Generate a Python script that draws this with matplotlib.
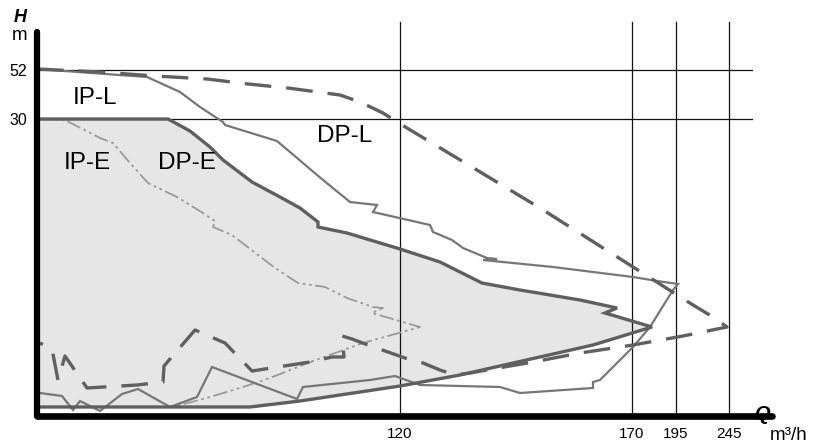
import matplotlib
matplotlib.use("Agg")
import matplotlib.pyplot as plt

plt.rcParams['font.family'] = ['Liberation Sans', 'DejaVu Sans']

# ---- chart units: x = position along Q axis, y = position along H axis (schematic, non-linear labels)
x_tick_pos = [363, 595, 639, 692]
x_tick_labels = ['120', '170', '195', '245']
y_tick_pos = [297, 346]
y_tick_labels = ['30', '52']

# DP-E area (thick solid outline, shaded)
dpe_x = [0, 131, 153, 173, 186, 215, 243, 263, 281, 281, 310, 363, 403, 445, 483, 543, 580, 568, 615,
         556, 423, 363, 263, 213, 0]
dpe_y = [297, 297, 285, 269, 256, 234, 219, 208, 194, 189, 183, 167, 154, 133, 126, 116, 108, 103, 89,
         71, 41, 30, 15, 9, 9]

# DP-L (thin solid)
dpl_x = [0, 110, 143, 163, 186, 188, 240, 286, 313, 340, 336, 393, 396, 415, 426, 450, 460, 446, 516,
         596, 620, 641, 636, 613, 596, 563, 556, 556, 483, 463, 383, 358, 333, 266, 260, 175, 160, 133,
         101, 85, 63, 43, 36, 25, 3]
dpl_y = [347, 339, 324, 309, 294, 291, 275, 236, 214, 211, 204, 191, 184, 176, 168, 158, 157, 156, 149,
         139, 135, 132, 126, 89, 69, 36, 34, 28, 23, 29, 31, 40, 36, 29, 17, 49, 19, 9,
         27, 22, 5, 15, 6, 20, 23]

# IP-L (long dashes)
ipl_x = [0, 63, 118, 170, 211, 251, 303, 323, 346, 365, 503, 656, 676, 690, 646, 596, 543, 496, 433,
         418, 403, 386, 368, 351, 331, 315, 305, 307, 295, 273, 215, 188, 158, 127, 126, 100, 50,
         28, 21, 15, 3]
ipl_y = [347, 344, 340, 337, 332, 328, 321, 314, 303, 291, 208, 111, 99, 89, 80, 71, 63, 54, 43,
         41, 46, 53, 58, 64, 71, 77, 80, 59, 59, 54, 45, 73, 86, 50, 34, 31, 28,
         60, 36, 67, 73]

# IP-E (thin dash-dot-dot)
ipe_x = [0, 28, 63, 76, 93, 111, 140, 166, 178, 176, 195, 238, 261, 288, 310, 336, 346, 335, 383,
         326, 276, 233, 206, 173, 136, 0]
ipe_y = [297, 296, 278, 273, 253, 233, 219, 203, 195, 189, 181, 148, 133, 129, 118, 109, 108, 103, 89,
         73, 55, 38, 29, 19, 9, 9]

region_labels = ['IP-L', 'DP-L', 'IP-E', 'DP-E']
region_label_pos = [(58, 318), (308, 280), (50, 253), (150, 253)]

fig = plt.figure(figsize=(8.32, 4.44), dpi=100)
ax = fig.add_axes([37 / 832, 28 / 444, 795 / 832, 416 / 444])
ax.set_xlim(0, 795)
ax.set_ylim(0, 416)
for s in ax.spines.values():
    s.set_visible(False)

# shaded DP-E area
ax.fill(dpe_x, dpe_y, color='#e6e6e6', zorder=1, linewidth=0)

# grid lines
for xp in x_tick_pos:
    ax.plot([xp, xp], [0, 394], color='#111111', lw=0.9, zorder=2)
for yp in y_tick_pos:
    ax.plot([0, 715], [yp, yp], color='#111111', lw=0.9, zorder=2)

# curves
ax.plot(ipe_x, ipe_y, color='#9a9a9a', lw=1.3, linestyle=(0, (8, 2, 1.5, 2, 1.5, 2)), zorder=3)
ax.plot(dpl_x, dpl_y, color='#777777', lw=1.6, zorder=4, solid_joinstyle='miter')
ax.plot(dpe_x, dpe_y, color='#5f5f5f', lw=2.4, zorder=5, solid_joinstyle='miter')
ax.plot(ipl_x, ipl_y, color='#606060', lw=2.4, linestyle=(0, (8, 4.5)), zorder=6)

# axes arrows (thick lines)
ax.plot([0, 0], [0, 384], color='black', lw=4.5, solid_capstyle='round', clip_on=False, zorder=10)
ax.plot([0, 735], [0, 0], color='black', lw=4.8, solid_capstyle='round', clip_on=False, zorder=10)

# ticks
ax.set_xticks(x_tick_pos, x_tick_labels)
ax.set_yticks(y_tick_pos, y_tick_labels)
ax.tick_params(axis='x', length=0, pad=8, labelsize=11)
ax.tick_params(axis='y', length=0, pad=7, labelsize=11.5)

# region labels
for lab, (px, py) in zip(region_labels, region_label_pos):
    ax.text(px, py, lab, fontsize=17.5, ha='center', va='center', zorder=8)

# axis titles
ax.text(-17, 398, 'H', fontsize=13, fontweight='bold', fontstyle='italic', ha='center', va='center', clip_on=False)
ax.text(-17, 380, 'm', fontsize=13.5, ha='center', va='center', clip_on=False)
ax.text(725, 2, 'Q', fontsize=14.5, fontweight='bold', fontstyle='italic', ha='center', va='center', clip_on=False)
ax.text(752, -19, 'm³/h', fontsize=13.5, ha='center', va='center', clip_on=False)

fig.savefig('out.png', dpi=100)
